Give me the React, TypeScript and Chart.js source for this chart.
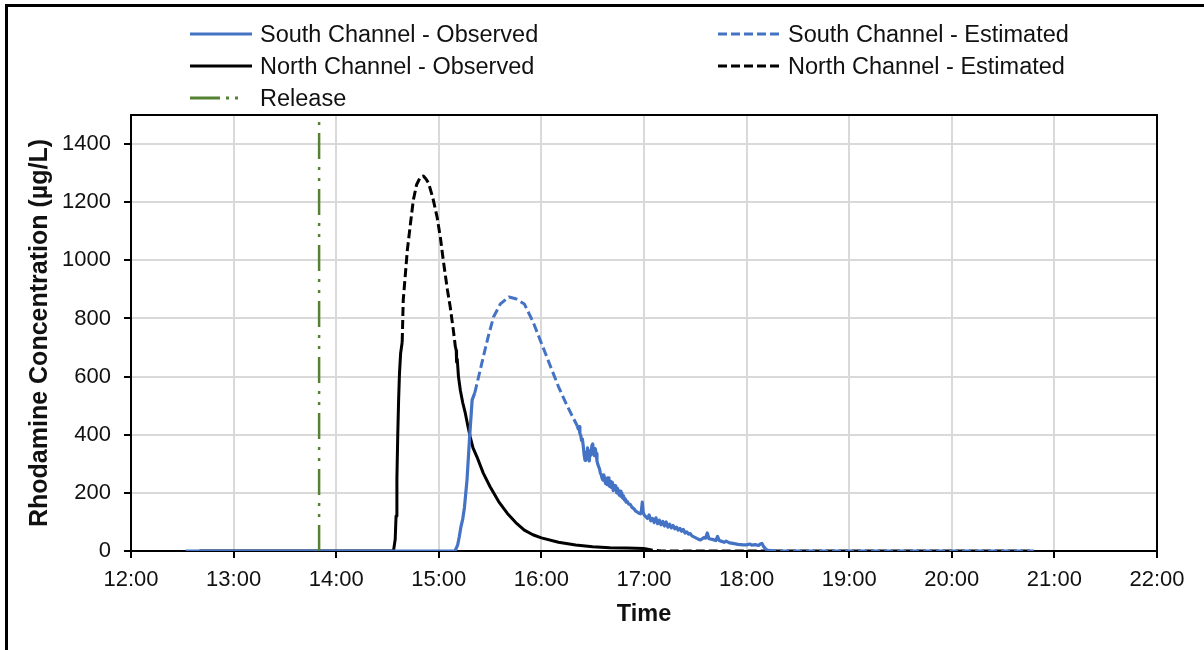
import React, { useEffect, useRef } from "react";
import { Chart, registerables } from "chart.js";

Chart.register(...registerables);

// ---------- Data ----------
const xTickValues = [12, 13, 14, 15, 16, 17, 18, 19, 20, 21, 22];
const xTickLabels = ["12:00", "13:00", "14:00", "15:00", "16:00", "17:00", "18:00", "19:00", "20:00", "21:00", "22:00"];
const yTickValues = [0, 200, 400, 600, 800, 1000, 1200, 1400];

const releaseTime = "13:50:00";

// South Channel - Observed (rising limb)
const southObsTimesA = ["12:32:00", "15:09:30", "15:11:00", "15:12:00", "15:13:00", "15:14:00", "15:15:00", "15:16:30", "15:18:00", "15:19:30", "15:21:00"];
const southObsValuesA = [0, 0, 20, 50, 85, 110, 150, 245, 390, 520, 543];

// South Channel - Observed (falling limb)
const southObsTimesB = [
  "16:21:00", "16:21:30", "16:22:00", "16:22:30", "16:23:00", "16:23:30", "16:24:00", "16:24:30", "16:25:00", "16:25:30",
  "16:26:00", "16:26:30", "16:27:00", "16:27:30", "16:28:00", "16:28:30", "16:29:00", "16:29:30", "16:30:00", "16:30:30",
  "16:31:00", "16:31:30", "16:32:00", "16:32:30", "16:33:00", "16:34:00", "16:34:30", "16:35:00", "16:35:30", "16:36:00",
  "16:36:30", "16:37:00", "16:37:30", "16:38:00", "16:38:30", "16:39:00", "16:39:30", "16:40:00", "16:40:30", "16:41:00",
  "16:41:30", "16:42:00", "16:42:30", "16:43:00", "16:43:30", "16:44:00", "16:44:30", "16:45:00", "16:45:30", "16:46:00",
  "16:46:30", "16:47:00", "16:47:30", "16:48:00", "16:48:30", "16:49:00", "16:49:30", "16:50:00", "16:51:00", "16:52:00",
  "16:53:00", "16:54:00", "16:55:00", "16:56:00", "16:57:00", "16:58:00", "16:58:30", "16:59:00", "16:59:30", "17:00:00",
  "17:01:00", "17:02:00", "17:03:00", "17:04:00", "17:05:00", "17:06:00", "17:07:00", "17:08:00", "17:09:00", "17:10:00",
  "17:11:00", "17:12:00", "17:13:00", "17:14:00", "17:15:00", "17:16:00", "17:17:00", "17:18:00", "17:19:00", "17:20:00",
  "17:21:00", "17:22:00", "17:23:00", "17:24:00", "17:25:00", "17:26:00", "17:27:00", "17:28:00", "17:30:00", "17:32:00",
  "17:33:00", "17:35:00", "17:36:00", "17:37:00", "17:38:00", "17:40:00", "17:42:00", "17:43:00", "17:44:00", "17:45:00",
  "17:47:00", "17:48:00", "17:50:00", "17:52:00", "17:55:00", "17:58:00", "18:00:00", "18:02:00", "18:03:00", "18:05:00",
  "18:07:00", "18:08:00", "18:09:00", "18:10:00", "18:11:00", "18:12:00",
];
const southObsValuesB = [
  430, 420, 428, 405, 398, 380, 385, 360, 330, 312,
  340, 318, 355, 325, 310, 345, 330, 362, 368, 340,
  328, 352, 335, 310, 298, 282, 268, 262, 250, 244,
  262, 248, 232, 250, 228, 252, 226, 222, 240, 218,
  236, 208, 226, 212, 224, 200, 216, 205, 192, 206,
  188, 200, 182, 190, 176, 180, 168, 172, 162, 160,
  150, 146, 138, 134, 130, 128, 140, 168, 135, 125,
  118, 112, 124, 104, 112, 98, 114, 94, 106, 90,
  102, 86, 100, 82, 92, 80, 88, 76, 82, 72,
  78, 68, 74, 62, 66, 58, 60, 52, 46, 40,
  38, 46, 44, 62, 42, 40, 36, 50, 36, 34,
  30, 34, 28, 26, 23, 21, 21, 24, 20, 22,
  19, 24, 26, 15, 8, 3,
];

// South Channel - Estimated (peak)
const southEstTimesA = ["15:21:00", "15:26:00", "15:29:00", "15:32:00", "15:36:00", "15:41:00", "15:45:00", "15:50:00", "15:55:00", "16:00:00", "16:05:00", "16:10:00", "16:15:00", "16:21:00"];
const southEstValuesA = [543, 667, 740, 805, 850, 874, 868, 850, 790, 715, 640, 565, 500, 430];
// South Channel - Estimated (tail)
const southEstTimesB = ["18:12:00", "18:20:00", "20:48:00"];
const southEstValuesB = [3, 0, 0];

// North Channel - Observed (rising limb)
const northObsTimesA = ["12:40:00", "14:33:30", "14:34:30", "14:35:00", "14:35:30", "14:36:00", "14:36:30", "14:37:00", "14:37:40", "14:38:36"];
const northObsValuesA = [0, 0, 40, 120, 250, 400, 520, 610, 680, 719];

// North Channel - Observed (falling limb)
const northObsTimesB = [
  "15:09:42", "15:10:12", "15:10:24", "15:10:48", "15:11:30", "15:12:36", "15:14:00", "15:15:30", "15:17:00", "15:18:24",
  "15:20:00", "15:22:18", "15:26:00", "15:30:00", "15:35:00", "15:40:00", "15:45:00", "15:50:00", "15:55:00", "16:00:00",
  "16:10:00", "16:20:00", "16:30:00", "16:40:00", "16:50:00", "17:00:00",
];
const northObsValuesB = [
  702, 690, 650, 660, 600, 553, 510, 474, 430, 392,
  355, 324, 268, 221, 170, 130, 98, 72, 56, 45,
  30, 21, 15, 11, 10, 9,
];

// North Channel - Estimated (peak)
const northEstTimesA = [
  "14:38:36", "14:39:12", "14:41:36", "14:43:30", "14:45:06", "14:47:00", "14:49:12", "14:51:00", "14:52:30", "14:54:00",
  "14:56:30", "14:59:00", "15:01:00", "15:02:36", "15:05:00", "15:06:42", "15:08:30", "15:09:42",
];
const northEstValuesA = [719, 863, 1035, 1130, 1207, 1260, 1287, 1290, 1280, 1266, 1215, 1149, 1075, 1001, 900, 839, 760, 702];
// North Channel - Estimated (tail)
const northEstTimesB = ["17:00:00", "17:05:00", "17:10:00", "20:48:00"];
const northEstValuesB = [9, 3, 0, 0];

// ---------- Styling ----------
const BLUE = "#4472C4";
const BLACK = "#000000";
const GREEN = "#548235";
const FONT = "'Liberation Sans', Arial, sans-serif";
const EST_DASH = [9, 4];
const RELEASE_DASH = [26, 8, 3, 8, 3, 8];

function toHours(s: string): number {
  const parts = s.split(":").map(Number);
  return parts[0] + (parts[1] || 0) / 60 + (parts[2] || 0) / 3600;
}

function pts(times: string[], values: number[]) {
  return times.map((t, i) => ({ x: toHours(t), y: values[i] as number | null }));
}

function withGap(a: { x: number; y: number | null }[], b: { x: number; y: number | null }[]) {
  const gx = (a[a.length - 1].x + b[0].x) / 2;
  return [...a, { x: gx, y: null }, ...b];
}

const framePlugin = {
  id: "frame",
  beforeDatasetsDraw(chart: any) {
    const { ctx, chartArea } = chart;
    ctx.save();
    ctx.strokeStyle = "#000";
    ctx.lineWidth = 2;
    ctx.beginPath();
    ctx.moveTo(chartArea.left, chartArea.top);
    ctx.lineTo(chartArea.right, chartArea.top);
    ctx.lineTo(chartArea.right, chartArea.bottom);
    ctx.stroke();
    ctx.restore();
  },
};

function Swatch({ color, dash, width }: { color: string; dash?: number[]; width: number }) {
  return (
    <svg width={62} height={8} style={{ display: "block", flex: "none" }}>
      <line
        x1={0}
        y1={4}
        x2={62}
        y2={4}
        stroke={color}
        strokeWidth={width}
        strokeDasharray={dash ? dash.join(" ") : undefined}
      />
    </svg>
  );
}

function LegendItem({ left, top, label, color, dash, width }: { left: number; top: number; label: string; color: string; dash?: number[]; width: number }) {
  return (
    <div
      style={{
        position: "absolute",
        left,
        top,
        height: 32,
        display: "flex",
        alignItems: "center",
        whiteSpace: "nowrap",
        fontFamily: FONT,
        fontSize: 23.5,
        lineHeight: "32px",
        color: "#111",
      }}
    >
      <Swatch color={color} dash={dash} width={width} />
      <span style={{ marginLeft: 8 }}>{label}</span>
    </div>
  );
}

export default function App() {
  const canvasRef = useRef<HTMLCanvasElement | null>(null);

  useEffect(() => {
    if (!canvasRef.current) return;
    const datasets: any[] = [
      {
        label: "Release",
        data: [
          { x: toHours(releaseTime), y: 0 },
          { x: toHours(releaseTime), y: 1500 },
        ],
        borderColor: GREEN,
        borderWidth: 2.5,
        borderDash: RELEASE_DASH,
        borderCapStyle: "butt",
      },
      {
        label: "South Channel - Estimated",
        data: withGap(pts(southEstTimesA, southEstValuesA), pts(southEstTimesB, southEstValuesB)),
        borderColor: BLUE,
        borderWidth: 3,
        borderDash: EST_DASH,
      },
      {
        label: "South Channel - Observed",
        data: withGap(pts(southObsTimesA, southObsValuesA), pts(southObsTimesB, southObsValuesB)),
        borderColor: BLUE,
        borderWidth: 3.2,
      },
      {
        label: "North Channel - Estimated",
        data: withGap(pts(northEstTimesA, northEstValuesA), pts(northEstTimesB, northEstValuesB)),
        borderColor: BLACK,
        borderWidth: 3,
        borderDash: EST_DASH,
      },
      {
        label: "North Channel - Observed",
        data: withGap(pts(northObsTimesA, northObsValuesA), pts(northObsTimesB, northObsValuesB)),
        borderColor: BLACK,
        borderWidth: 3,
      },
    ].map((d) => ({
      ...d,
      pointRadius: 0,
      pointHoverRadius: 0,
      fill: false,
      tension: 0,
      spanGaps: false,
      borderJoinStyle: "round",
    }));

    const chart = new Chart(canvasRef.current, {
      type: "line",
      data: { datasets },
      plugins: [framePlugin],
      options: {
        animation: false,
        responsive: false,
        maintainAspectRatio: false,
        devicePixelRatio: 1,
        layout: { padding: { top: 115, right: 47, left: 14, bottom: 0 } },
        plugins: { legend: { display: false }, tooltip: { enabled: false } },
        scales: {
          x: {
            type: "linear",
            min: xTickValues[0],
            max: xTickValues[xTickValues.length - 1],
            afterBuildTicks: (s: any) => {
              s.ticks = xTickValues.map((v) => ({ value: v }));
            },
            ticks: {
              autoSkip: false,
              maxRotation: 0,
              padding: 9,
              color: "#111",
              font: { family: FONT, size: 22 },
              callback: (v: any) => {
                const i = xTickValues.indexOf(Number(v));
                return i >= 0 ? xTickLabels[i] : "";
              },
            },
            grid: { color: "#D9D9D9", lineWidth: 2, tickLength: 7, tickColor: "#000", tickWidth: 2 },
            border: { color: "#000", width: 2 },
            title: {
              display: true,
              text: "Time",
              color: "#111",
              font: { family: FONT, size: 23.5, weight: "bold" },
              padding: { top: 0, bottom: 21 },
            },
            afterFit: (s: any) => {
              s.height = 99;
            },
          },
          y: {
            type: "linear",
            min: 0,
            max: 1500,
            afterBuildTicks: (s: any) => {
              s.ticks = yTickValues.map((v) => ({ value: v }));
            },
            ticks: {
              padding: 13,
              color: "#111",
              font: { family: FONT, size: 22 },
              callback: (v: any) => String(v),
            },
            grid: { color: "#D9D9D9", lineWidth: 2, tickLength: 7, tickColor: "#000", tickWidth: 2 },
            border: { color: "#000", width: 2 },
            title: {
              display: true,
              text: "Rhodamine Concentration (µg/L)",
              color: "#111",
              font: { family: FONT, size: 25, weight: "bold" },
              padding: { top: 11, bottom: 0 },
            },
            afterFit: (s: any) => {
              s.width = 131 - 14;
            },
          },
        },
      } as any,
    });
    return () => chart.destroy();
  }, []);

  return (
    <div style={{ position: "absolute", left: 0, top: 0, width: 1204, height: 650, background: "#fff", overflow: "hidden" }}>
      <div
        style={{
          position: "absolute",
          left: 5,
          top: 4,
          width: 1204,
          height: 650,
          borderTop: "3px solid #000",
          borderLeft: "3px solid #000",
        }}
      />
      <canvas ref={canvasRef} width={1204} height={650} style={{ position: "absolute", left: 0, top: 0, width: 1204, height: 650 }} />
      <LegendItem left={190} top={18} label="South Channel - Observed" color={BLUE} width={3} />
      <LegendItem left={718} top={18} label="South Channel - Estimated" color={BLUE} dash={EST_DASH} width={3} />
      <LegendItem left={190} top={50} label="North Channel - Observed" color={BLACK} width={3} />
      <LegendItem left={718} top={50} label="North Channel - Estimated" color={BLACK} dash={EST_DASH} width={3} />
      <LegendItem left={190} top={82} label="Release" color={GREEN} dash={[30, 6, 3, 6, 3, 14]} width={3} />
    </div>
  );
}
